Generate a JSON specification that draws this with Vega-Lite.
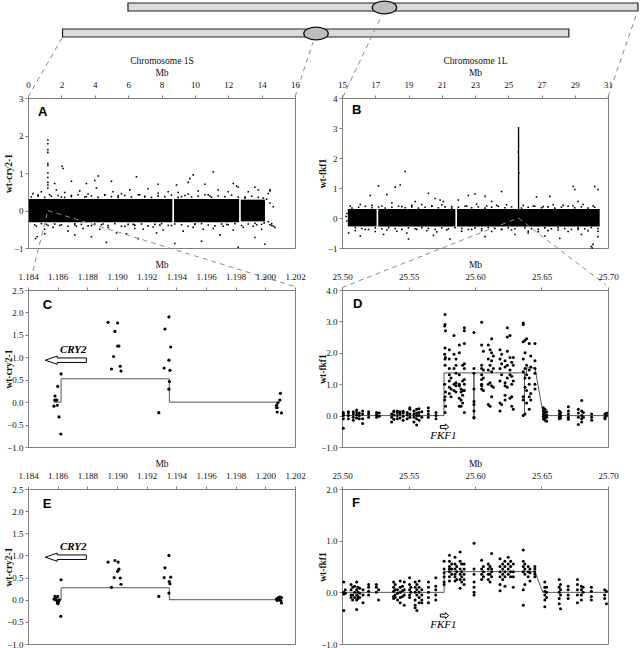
{
 "$schema": "https://vega.github.io/schema/vega-lite/v6.json",
 "padding": {"left": 2, "top": -2, "right": 0, "bottom": 0},
 "background": "white",
 "columns": 2,
 "spacing": {"row": 42, "column": 47},
 "bounds": "flush",
 "datasets": {
  "aband": [{"x":0.05,"x2":8.65,"y":-0.31,"y2":0.31},{"x":8.75,"x2":12.65,"y":-0.31,"y2":0.31},{"x":12.75,"x2":14.2,"y":-0.29,"y2":0.29}],
  "apts": [{"x":0.3,"y":0.45},{"x":0.5,"y":-0.42},{"x":0.8,"y":0.5},{"x":1.0,"y":-0.5},{"x":1.3,"y":0.42},{"x":1.5,"y":-0.45},{"x":1.7,"y":0.55},{"x":1.9,"y":-0.4},{"x":2.2,"y":0.48},{"x":2.4,"y":-0.55},{"x":2.6,"y":0.4},{"x":2.9,"y":-0.42},{"x":3.1,"y":0.52},{"x":3.3,"y":-0.48},{"x":3.6,"y":0.44},{"x":3.8,"y":-0.4},{"x":4.1,"y":0.6},{"x":4.3,"y":-0.5},{"x":4.6,"y":0.42},{"x":4.8,"y":-0.45},{"x":5.1,"y":0.5},{"x":5.3,"y":-0.6},{"x":5.6,"y":0.45},{"x":5.8,"y":-0.42},{"x":6.1,"y":0.55},{"x":6.4,"y":-0.48},{"x":6.7,"y":0.42},{"x":6.9,"y":-0.5},{"x":7.2,"y":0.58},{"x":7.5,"y":-0.44},{"x":7.8,"y":0.46},{"x":8.1,"y":-0.52},{"x":8.4,"y":0.5},{"x":8.6,"y":-0.4},{"x":9.0,"y":0.48},{"x":9.3,"y":-0.55},{"x":9.6,"y":0.44},{"x":9.9,"y":-0.45},{"x":10.2,"y":0.52},{"x":10.5,"y":-0.5},{"x":10.8,"y":0.42},{"x":11.1,"y":-0.48},{"x":11.4,"y":0.55},{"x":11.7,"y":-0.42},{"x":12.0,"y":0.5},{"x":12.3,"y":-0.52},{"x":12.6,"y":0.62},{"x":12.9,"y":-0.45},{"x":13.2,"y":0.5},{"x":13.5,"y":-0.42},{"x":13.8,"y":0.55},{"x":14.0,"y":-0.5},{"x":14.3,"y":0.3},{"x":14.4,"y":-0.3},{"x":14.5,"y":0.55},{"x":14.6,"y":-0.35},{"x":14.7,"y":0.1},{"x":14.8,"y":-0.45},{"x":14.5,"y":0.2},{"x":14.4,"y":0.45},{"x":0.6,"y":0.38},{"x":1.1,"y":-0.37},{"x":2.0,"y":0.36},{"x":2.8,"y":-0.38},{"x":3.5,"y":0.37},{"x":4.5,"y":-0.36},{"x":5.4,"y":0.39},{"x":6.3,"y":-0.37},{"x":7.0,"y":0.36},{"x":7.9,"y":-0.39},{"x":9.2,"y":0.37},{"x":10.0,"y":-0.36},{"x":10.9,"y":0.38},{"x":11.9,"y":-0.37},{"x":13.0,"y":0.36},{"x":13.7,"y":-0.38},
   {"x":0.2,"y":0.36},{"x":0.4,"y":-0.38},{"x":0.6,"y":0.41},{"x":0.8,"y":-0.35},{"x":1.0,"y":0.35},{"x":1.2,"y":-0.4},{"x":1.4,"y":0.38},{"x":1.6,"y":-0.36},{"x":1.8,"y":0.4},{"x":2.0,"y":-0.38},{"x":2.2,"y":0.35},{"x":2.4,"y":-0.42},{"x":2.6,"y":0.37},{"x":2.8,"y":-0.35},{"x":3.0,"y":0.42},{"x":3.2,"y":-0.37},{"x":3.4,"y":0.36},{"x":3.6,"y":-0.41},{"x":3.8,"y":0.39},{"x":4.0,"y":-0.36},{"x":4.2,"y":0.35},{"x":4.4,"y":-0.38},{"x":4.6,"y":0.41},{"x":4.8,"y":-0.4},{"x":5.0,"y":0.37},{"x":5.2,"y":-0.35},{"x":5.4,"y":0.35},{"x":5.6,"y":-0.42},{"x":5.8,"y":0.4},{"x":6.0,"y":-0.37},{"x":6.2,"y":0.36},{"x":6.4,"y":-0.39},{"x":6.6,"y":0.42},{"x":6.8,"y":-0.36},{"x":7.0,"y":0.38},{"x":7.2,"y":-0.41},{"x":7.4,"y":0.35},{"x":7.6,"y":-0.37},{"x":7.8,"y":0.39},{"x":8.0,"y":-0.35},{"x":8.2,"y":0.37},{"x":8.4,"y":-0.4},{"x":8.6,"y":0.41},{"x":8.8,"y":-0.36},{"x":9.0,"y":0.35},{"x":9.2,"y":-0.38},{"x":9.4,"y":0.4},{"x":9.6,"y":-0.42},{"x":9.8,"y":0.36},{"x":10.0,"y":-0.37},{"x":10.2,"y":0.38},{"x":10.4,"y":-0.35},{"x":10.6,"y":0.42},{"x":10.8,"y":-0.39},{"x":11.0,"y":0.35},{"x":11.2,"y":-0.41},{"x":11.4,"y":0.39},{"x":11.6,"y":-0.36},{"x":11.8,"y":0.37},{"x":12.0,"y":-0.38},{"x":12.2,"y":0.41},{"x":12.4,"y":-0.35},{"x":12.6,"y":0.36},{"x":12.8,"y":-0.4},{"x":13.0,"y":0.33},{"x":13.2,"y":-0.36},{"x":13.4,"y":0.38},{"x":13.6,"y":-0.34},{"x":13.8,"y":0.35},{"x":14.0,"y":-0.37},{"x":14.1,"y":0.33},{"x":14.15,"y":-0.33},
   {"x":1.19,"y":1.88},{"x":1.19,"y":1.78},{"x":1.19,"y":1.62},{"x":1.19,"y":1.55},{"x":1.19,"y":1.25},{"x":1.19,"y":1.2},{"x":1.19,"y":1.0},{"x":1.19,"y":0.88},{"x":1.19,"y":0.75},{"x":1.19,"y":0.68},{"x":1.19,"y":0.6},{"x":2.05,"y":1.18},{"x":2.1,"y":1.12},{"x":4.21,"y":0.92},{"x":4.0,"y":0.8},{"x":6.5,"y":0.9},{"x":5.0,"y":0.78},{"x":9.9,"y":0.95},{"x":9.7,"y":0.85},{"x":9.6,"y":0.75},{"x":11.1,"y":1.03},{"x":12.3,"y":0.72},{"x":12.5,"y":0.65},{"x":13.6,"y":0.62},{"x":14.5,"y":0.52},{"x":3.5,"y":0.72},{"x":7.8,"y":0.7},{"x":8.9,"y":0.68},{"x":10.6,"y":0.7},{"x":2.6,"y":0.78},{"x":1.6,"y":0.72},{"x":0.45,"y":-0.75},{"x":0.55,"y":-0.7},{"x":1.0,"y":-0.62},{"x":2.8,"y":-0.65},{"x":4.7,"y":-0.85},{"x":6.6,"y":-0.75},{"x":7.7,"y":-0.6},{"x":8.8,"y":-0.88},{"x":10.4,"y":-0.82},{"x":12.6,"y":-0.98},{"x":13.6,"y":-0.72},{"x":14.2,"y":-0.9},{"x":14.5,"y":-0.38},{"x":14.6,"y":-0.4},{"x":14.7,"y":-0.42},{"x":11.5,"y":-0.65},{"x":5.9,"y":-0.62},{"x":3.8,"y":-0.7}],
  "diag": [{"x":2.07,"x2":32.41,"y":4.627,"y2":4.84},{"x":5.99,"x2":36.55,"y":5.32,"y2":5.533}],
  "ell": [{"x":17.26,"y":4.72},{"x":21.36,"y":5.413}],
  "acon": [{"g":1,"x":2.04,"y":4.6},{"g":1,"x":0,"y":3.027},{"g":2,"x":17.08,"y":4.49},{"g":2,"x":16.0,"y":3.03},{"g":3,"x":21.21,"y":5.213},{"g":3,"x":18.87,"y":3.027},{"g":4,"x":36.49,"y":5.267},{"g":4,"x":34.75,"y":3.027},{"g":5,"x":1.19,"y":0},{"g":5,"x":0.3,"y":-1.61},{"g":6,"x":1.19,"y":0},{"g":6,"x":16.05,"y":-2.04}],
  "bband": [{"x":15.35,"x2":17.08,"y":-0.28,"y2":0.3},{"x":17.18,"x2":21.82,"y":-0.28,"y2":0.3},{"x":21.92,"x2":30.5,"y":-0.28,"y2":0.3},{"x":25.58,"x2":25.66,"y":0.3,"y2":2.97}],
  "bpts": [{"x":15.5,"y":0.4},{"x":15.8,"y":-0.42},{"x":16.1,"y":0.45},{"x":16.4,"y":-0.38},{"x":16.8,"y":0.42},{"x":17.0,"y":-0.45},{"x":17.4,"y":0.4},{"x":17.7,"y":-0.4},{"x":18.0,"y":0.5},{"x":18.3,"y":-0.44},{"x":18.6,"y":0.38},{"x":18.9,"y":-0.5},{"x":19.2,"y":0.42},{"x":19.5,"y":-0.38},{"x":19.8,"y":0.45},{"x":20.1,"y":-0.42},{"x":20.4,"y":0.4},{"x":20.7,"y":-0.46},{"x":21.0,"y":0.44},{"x":21.3,"y":-0.4},{"x":21.6,"y":0.38},{"x":22.2,"y":-0.44},{"x":22.5,"y":0.4},{"x":22.8,"y":-0.38},{"x":23.1,"y":0.46},{"x":23.4,"y":-0.42},{"x":23.7,"y":0.4},{"x":24.0,"y":-0.45},{"x":24.3,"y":0.42},{"x":24.6,"y":-0.38},{"x":24.9,"y":0.44},{"x":25.2,"y":-0.4},{"x":25.9,"y":0.42},{"x":26.2,"y":-0.44},{"x":26.5,"y":0.4},{"x":26.8,"y":-0.46},{"x":27.1,"y":0.38},{"x":27.4,"y":-0.42},{"x":27.7,"y":0.44},{"x":28.0,"y":-0.4},{"x":28.3,"y":0.42},{"x":28.6,"y":-0.45},{"x":28.9,"y":0.4},{"x":29.2,"y":-0.38},{"x":29.5,"y":0.45},{"x":29.8,"y":-0.42},{"x":30.1,"y":0.4},{"x":30.4,"y":-0.44},{"x":15.3,"y":-0.1},{"x":15.25,"y":0.05},{"x":15.3,"y":0.15},
   {"x":15.6,"y":0.33},{"x":15.8,"y":-0.32},{"x":16.0,"y":0.36},{"x":16.2,"y":-0.35},{"x":16.4,"y":0.39},{"x":16.6,"y":-0.38},{"x":16.8,"y":0.34},{"x":17.0,"y":-0.33},{"x":17.2,"y":0.37},{"x":17.4,"y":-0.36},{"x":17.6,"y":0.33},{"x":17.8,"y":-0.32},{"x":18.0,"y":0.36},{"x":18.2,"y":-0.35},{"x":18.4,"y":0.39},{"x":18.6,"y":-0.38},{"x":18.8,"y":0.34},{"x":19.0,"y":-0.33},{"x":19.2,"y":0.37},{"x":19.4,"y":-0.36},{"x":19.6,"y":0.33},{"x":19.8,"y":-0.32},{"x":20.0,"y":0.36},{"x":20.2,"y":-0.35},{"x":20.4,"y":0.39},{"x":20.6,"y":-0.38},{"x":20.8,"y":0.34},{"x":21.0,"y":-0.33},{"x":21.2,"y":0.37},{"x":21.4,"y":-0.36},{"x":21.6,"y":0.33},{"x":21.8,"y":-0.32},{"x":22.0,"y":0.36},{"x":22.2,"y":-0.35},{"x":22.4,"y":0.39},{"x":22.6,"y":-0.38},{"x":22.8,"y":0.34},{"x":23.0,"y":-0.33},{"x":23.2,"y":0.37},{"x":23.4,"y":-0.36},{"x":23.6,"y":0.33},{"x":23.8,"y":-0.32},{"x":24.0,"y":0.36},{"x":24.2,"y":-0.35},{"x":24.4,"y":0.39},{"x":24.6,"y":-0.38},{"x":24.8,"y":0.34},{"x":25.0,"y":-0.33},{"x":25.2,"y":0.37},{"x":25.4,"y":-0.36},{"x":25.8,"y":0.33},{"x":26.0,"y":-0.32},{"x":26.2,"y":0.36},{"x":26.4,"y":-0.35},{"x":26.6,"y":0.39},{"x":26.8,"y":-0.38},{"x":27.0,"y":0.34},{"x":27.2,"y":-0.33},{"x":27.4,"y":0.37},{"x":27.6,"y":-0.36},{"x":27.8,"y":0.33},{"x":28.0,"y":-0.32},{"x":28.2,"y":0.36},{"x":28.4,"y":-0.35},{"x":28.6,"y":0.39},{"x":28.8,"y":-0.38},{"x":29.0,"y":0.34},{"x":29.2,"y":-0.33},{"x":29.4,"y":0.37},{"x":29.6,"y":-0.36},{"x":29.8,"y":0.33},{"x":30.0,"y":-0.32},{"x":30.2,"y":0.36},{"x":30.4,"y":-0.35},
   {"x":18.8,"y":1.55},{"x":17.2,"y":1.07},{"x":18.2,"y":1.03},{"x":18.5,"y":1.1},{"x":16.7,"y":0.75},{"x":17.7,"y":0.78},{"x":20.2,"y":0.82},{"x":20.6,"y":0.65},{"x":20.9,"y":0.6},{"x":21.1,"y":0.55},{"x":19.4,"y":0.55},{"x":22.6,"y":0.75},{"x":23.0,"y":0.8},{"x":23.6,"y":0.72},{"x":24.6,"y":0.88},{"x":26.7,"y":0.7},{"x":27.5,"y":0.72},{"x":28.9,"y":1.05},{"x":29.0,"y":0.95},{"x":30.2,"y":1.05},{"x":30.4,"y":0.95},{"x":29.2,"y":0.55},{"x":22.0,"y":0.6},{"x":24.0,"y":0.55},{"x":15.4,"y":-0.5},{"x":16.1,"y":-0.6},{"x":17.5,"y":-0.55},{"x":19.0,"y":-0.7},{"x":20.5,"y":-0.58},{"x":21.5,"y":-0.7},{"x":23.6,"y":-0.62},{"x":25.4,"y":-0.55},{"x":26.2,"y":-0.5},{"x":27.2,"y":-0.6},{"x":28.1,"y":-0.68},{"x":29.4,"y":-0.55},{"x":30.0,"y":-0.95},{"x":30.05,"y":-1.0},{"x":30.1,"y":-0.88},{"x":30.4,"y":-0.62},{"x":25.62,"y":3.0},{"x":25.6,"y":2.2},{"x":25.64,"y":1.5}],
  "bcon": [{"g":1,"x":25.6,"y":0},{"g":1,"x":15,"y":-2.32},{"g":2,"x":25.6,"y":0},{"g":2,"x":30.87,"y":-2.23}],
  "cpts": [{"x":1.18575,"y":-0.09},{"x":1.18582,"y":0.136},{"x":1.18589,"y":0.045},{"x":1.1858,"y":0.045},{"x":1.18594,"y":0.045},{"x":1.18598,"y":-0.07},{"x":1.186,"y":0.35},{"x":1.18609,"y":-0.33},{"x":1.18621,"y":-0.71},{"x":1.18623,"y":0.63},{"x":1.1894,"y":1.78},{"x":1.19004,"y":1.765},{"x":1.18986,"y":1.576},{"x":1.18977,"y":1.018},{"x":1.18963,"y":0.739},{"x":1.19004,"y":1.25},{"x":1.19013,"y":1.25},{"x":1.19022,"y":0.8},{"x":1.19027,"y":0.694},{"x":1.19282,"y":-0.234},{"x":1.19323,"y":1.63},{"x":1.19318,"y":0.76},{"x":1.1935,"y":1.9},{"x":1.1935,"y":0.935},{"x":1.19362,"y":1.23},{"x":1.19357,"y":0.71},{"x":1.19353,"y":0.46},{"x":1.1935,"y":0.29},{"x":1.20075,"y":-0.07},{"x":1.2008,"y":-0.12},{"x":1.20084,"y":-0.015},{"x":1.2008,"y":-0.22},{"x":1.20098,"y":0.045},{"x":1.20102,"y":0.196},{"x":1.20109,"y":-0.24},{"x":1.20075,"y":-0.12}],
  "cstep": [{"o":1,"x":1.18571,"y":0},{"o":2,"x":1.18623,"y":0},{"o":3,"x":1.18623,"y":0.52},{"o":4,"x":1.19353,"y":0.52},{"o":5,"x":1.19353,"y":0},{"o":6,"x":1.20098,"y":0}],
  "epts": [{"x":1.18575,"y":0.015},{"x":1.18582,"y":0.075},{"x":1.18589,"y":0.04},{"x":1.18594,"y":-0.02},{"x":1.18585,"y":0},{"x":1.18598,"y":-0.075},{"x":1.18607,"y":-0.04},{"x":1.18612,"y":0},{"x":1.186,"y":0.075},{"x":1.18623,"y":0.45},{"x":1.18621,"y":-0.375},{"x":1.18603,"y":-0.09},{"x":1.1894,"y":0.85},{"x":1.18986,"y":0.886},{"x":1.19008,"y":0.85},{"x":1.18981,"y":0.5},{"x":1.18963,"y":0.28},{"x":1.19004,"y":0.64},{"x":1.19013,"y":0.69},{"x":1.19022,"y":0.49},{"x":1.19027,"y":0.35},{"x":1.19282,"y":0.075},{"x":1.19323,"y":0.72},{"x":1.19318,"y":0.5},{"x":1.1935,"y":1.0},{"x":1.19362,"y":0.51},{"x":1.19352,"y":0.41},{"x":1.19357,"y":0.36},{"x":1.1935,"y":0.15},{"x":1.20075,"y":0.015},{"x":1.20086,"y":0.04},{"x":1.20098,"y":0.06},{"x":1.20093,"y":0},{"x":1.20104,"y":-0.02},{"x":1.20109,"y":-0.075},{"x":1.2008,"y":-0.015},{"x":1.20109,"y":0.05}],
  "estep": [{"o":1,"x":1.18571,"y":0},{"o":2,"x":1.18623,"y":0},{"o":3,"x":1.18623,"y":0.27},{"o":4,"x":1.19353,"y":0.27},{"o":5,"x":1.19353,"y":0},{"o":6,"x":1.20098,"y":0}],
  "dpts": [{"x":25.501,"y":-0.4},{"x":25.501,"y":-0.1},{"x":25.501,"y":0},{"x":25.501,"y":0.05},{"x":25.501,"y":0.1},{"x":25.5048,"y":-0.1},{"x":25.5048,"y":0},{"x":25.5048,"y":0.08},{"x":25.5048,"y":0.12},{"x":25.5085,"y":-0.15},{"x":25.5085,"y":-0.05},{"x":25.5085,"y":0.05},{"x":25.5085,"y":0.12},{"x":25.511,"y":-0.08},{"x":25.511,"y":0.02},{"x":25.511,"y":0.1},{"x":25.511,"y":0.18},{"x":25.513,"y":-0.1},{"x":25.513,"y":0},{"x":25.513,"y":0.08},{"x":25.5155,"y":-0.25},{"x":25.5155,"y":-0.1},{"x":25.5155,"y":0.05},{"x":25.5155,"y":0.15},{"x":25.52,"y":-0.05},{"x":25.52,"y":0.05},{"x":25.52,"y":0.12},{"x":25.526,"y":-0.05},{"x":25.526,"y":0.03},{"x":25.526,"y":0.1},{"x":25.528,"y":-0.02},{"x":25.528,"y":0.08},{"x":25.5373,"y":-0.2},{"x":25.5373,"y":-0.05},{"x":25.5373,"y":0.05},{"x":25.539,"y":-0.12},{"x":25.539,"y":0.02},{"x":25.539,"y":0.12},{"x":25.539,"y":0.15},{"x":25.5416,"y":-0.1},{"x":25.5416,"y":0},{"x":25.5416,"y":0.1},{"x":25.5416,"y":0.15},{"x":25.5436,"y":-0.08},{"x":25.5436,"y":0.05},{"x":25.5436,"y":0.12},{"x":25.546,"y":-0.15},{"x":25.546,"y":-0.02},{"x":25.546,"y":0.08},{"x":25.546,"y":0.14},{"x":25.549,"y":-0.1},{"x":25.549,"y":0.02},{"x":25.549,"y":0.1},{"x":25.551,"y":-0.05},{"x":25.551,"y":0.05},{"x":25.551,"y":0.2},{"x":25.551,"y":0.25},{"x":25.5541,"y":-0.2},{"x":25.5541,"y":-0.05},{"x":25.5541,"y":0.05},{"x":25.5541,"y":0.15},{"x":25.5561,"y":-0.3},{"x":25.5561,"y":-0.1},{"x":25.5561,"y":0},{"x":25.5561,"y":0.08},{"x":25.5561,"y":0.2},{"x":25.5579,"y":-0.15},{"x":25.5579,"y":0},{"x":25.5579,"y":0.1},{"x":25.5579,"y":0.22},{"x":25.56,"y":-0.05},{"x":25.56,"y":0.12},{"x":25.5649,"y":-0.05},{"x":25.5649,"y":0.05},{"x":25.5649,"y":0.15},{"x":25.5649,"y":0.25},{"x":25.5707,"y":-0.1},{"x":25.5707,"y":0},{"x":25.5707,"y":0.1},
   {"x":25.5775,"y":3.22},{"x":25.5775,"y":2.9},{"x":25.5772,"y":2.85},{"x":25.5778,"y":2.7},{"x":25.5775,"y":2.15},{"x":25.5772,"y":1.95},{"x":25.5778,"y":1.85},{"x":25.5775,"y":1.8},{"x":25.5775,"y":1.6},{"x":25.5772,"y":1.0},{"x":25.5778,"y":0.75},{"x":25.5775,"y":0.6},{"x":25.5772,"y":0.5},{"x":25.5778,"y":0.3},{"x":25.5775,"y":0.1},
   {"x":25.5807,"y":2.1},{"x":25.5807,"y":1.8},{"x":25.5807,"y":1.5},{"x":25.5807,"y":1.3},{"x":25.5807,"y":1.1},{"x":25.5807,"y":0.9},{"x":25.5807,"y":0.7},{"x":25.582,"y":1.2},{"x":25.582,"y":0.85},{"x":25.582,"y":0.6},
   {"x":25.5842,"y":2.55},{"x":25.5842,"y":1.95},{"x":25.5842,"y":1.5},{"x":25.5842,"y":1.0},{"x":25.5842,"y":0.8},{"x":25.5857,"y":1.8},{"x":25.5857,"y":1.6},{"x":25.5857,"y":1.35},{"x":25.5857,"y":1.05},{"x":25.5857,"y":0.95},{"x":25.5857,"y":0.75},
   {"x":25.5882,"y":2.25},{"x":25.5882,"y":2.0},{"x":25.5882,"y":1.3},{"x":25.5882,"y":1.0},{"x":25.5882,"y":0.95},{"x":25.5882,"y":0.55},{"x":25.5882,"y":0.3},{"x":25.5895,"y":0.85},{"x":25.5895,"y":0.75},{"x":25.5895,"y":0.5},{"x":25.5895,"y":0.3},
   {"x":25.5907,"y":1.6},{"x":25.5907,"y":1.1},{"x":25.5907,"y":0.8},{"x":25.5907,"y":0.65},{"x":25.5907,"y":0.4},{"x":25.592,"y":2.8},{"x":25.592,"y":2.7},{"x":25.592,"y":2.3},{"x":25.592,"y":1.65},{"x":25.592,"y":1.5},{"x":25.592,"y":1.15},{"x":25.592,"y":1.0},{"x":25.592,"y":0.8},{"x":25.592,"y":0.1},
   {"x":25.5992,"y":2.65},{"x":25.5992,"y":1.5},{"x":25.5992,"y":1.35},{"x":25.5992,"y":0.85},{"x":25.5992,"y":0.45},{"x":25.5992,"y":0.35},{"x":25.5992,"y":0.15},{"x":25.5992,"y":-0.05},{"x":25.5992,"y":-0.08},
   {"x":25.605,"y":2.97},{"x":25.605,"y":2.25},{"x":25.605,"y":1.6},{"x":25.605,"y":1.5},{"x":25.605,"y":1.3},{"x":25.605,"y":1.15},{"x":25.605,"y":1.0},{"x":25.605,"y":0.95},{"x":25.605,"y":0.85},{"x":25.6063,"y":2.05},{"x":25.6063,"y":1.45},{"x":25.6063,"y":1.2},{"x":25.6063,"y":0.8},
   {"x":25.61,"y":2.25},{"x":25.61,"y":1.8},{"x":25.61,"y":1.45},{"x":25.61,"y":1.0},{"x":25.61,"y":0.35},{"x":25.6113,"y":2.1},{"x":25.6113,"y":1.6},{"x":25.6113,"y":1.05},{"x":25.6113,"y":0.3},
   {"x":25.6125,"y":2.45},{"x":25.6125,"y":2.0},{"x":25.6125,"y":1.75},{"x":25.6125,"y":1.4},{"x":25.6125,"y":0.95},{"x":25.6125,"y":0.6},{"x":25.6138,"y":1.9},{"x":25.6138,"y":1.5},{"x":25.6138,"y":0.9},
   {"x":25.6188,"y":2.1},{"x":25.6188,"y":1.8},{"x":25.6188,"y":1.5},{"x":25.6188,"y":1.1},{"x":25.6188,"y":0.4},{"x":25.6188,"y":0.15},{"x":25.62,"y":1.95},{"x":25.62,"y":1.65},{"x":25.62,"y":1.3},{"x":25.62,"y":0.35},
   {"x":25.6226,"y":1.75},{"x":25.6226,"y":1.55},{"x":25.6226,"y":1.05},{"x":25.6226,"y":0.95},{"x":25.6226,"y":0.65},{"x":25.6226,"y":0.5},{"x":25.6243,"y":2.8},{"x":25.6243,"y":2.5},{"x":25.6243,"y":2.05},{"x":25.6243,"y":1.6},{"x":25.6243,"y":1.2},{"x":25.6243,"y":0.9},
   {"x":25.6263,"y":2.55},{"x":25.6263,"y":1.85},{"x":25.6263,"y":1.45},{"x":25.6263,"y":1.3},{"x":25.6263,"y":0.55},{"x":25.6276,"y":1.7},{"x":25.6276,"y":1.25},{"x":25.6276,"y":1.0},{"x":25.6276,"y":0.6},{"x":25.6276,"y":0.3},{"x":25.6288,"y":1.85},{"x":25.6288,"y":1.6},{"x":25.6288,"y":1.1},{"x":25.6288,"y":0.2},
   {"x":25.6363,"y":2.95},{"x":25.6363,"y":2.9},{"x":25.6363,"y":2.35},{"x":25.6363,"y":1.8},{"x":25.6363,"y":1.4},{"x":25.6363,"y":0.6},{"x":25.6363,"y":0.5},{"x":25.6363,"y":0.0},{"x":25.6376,"y":2.4},{"x":25.6376,"y":2.0},{"x":25.6376,"y":1.5},{"x":25.6376,"y":1.2},{"x":25.6376,"y":0.9},{"x":25.6376,"y":0.05},
   {"x":25.6388,"y":2.45},{"x":25.6388,"y":1.6},{"x":25.6388,"y":1.3},{"x":25.6388,"y":0.8},{"x":25.6388,"y":0.4},{"x":25.6408,"y":2.3},{"x":25.6408,"y":1.45},{"x":25.6408,"y":1.2},{"x":25.6408,"y":1.0},{"x":25.6408,"y":0.6},{"x":25.6408,"y":0.2},{"x":25.6419,"y":1.9},{"x":25.6419,"y":1.55},{"x":25.6419,"y":0.7},{"x":25.6419,"y":0.5},
   {"x":25.6451,"y":2.3},{"x":25.6451,"y":1.75},{"x":25.6451,"y":1.5},{"x":25.6451,"y":1.35},{"x":25.6451,"y":1.0},{"x":25.6451,"y":0.85},
   {"x":25.6514,"y":0.25},{"x":25.6514,"y":0.15},{"x":25.6514,"y":0.05},{"x":25.6514,"y":-0.02},{"x":25.6514,"y":-0.1},{"x":25.6526,"y":0.2},{"x":25.6526,"y":0.1},{"x":25.6526,"y":0},{"x":25.6526,"y":-0.08},{"x":25.6526,"y":-0.15},{"x":25.6539,"y":0.12},{"x":25.6539,"y":0.02},{"x":25.6539,"y":-0.05},{"x":25.6539,"y":-0.18},
   {"x":25.6634,"y":0.15},{"x":25.6634,"y":0.05},{"x":25.6634,"y":-0.05},{"x":25.6634,"y":-0.1},{"x":25.6644,"y":0.1},{"x":25.6644,"y":0},{"x":25.6644,"y":-0.08},{"x":25.6702,"y":0.28},{"x":25.6702,"y":0.15},{"x":25.6702,"y":0.05},{"x":25.6702,"y":-0.05},{"x":25.6702,"y":-0.12},
   {"x":25.6777,"y":0.2},{"x":25.6777,"y":0.08},{"x":25.6777,"y":-0.05},{"x":25.6777,"y":-0.28},{"x":25.6802,"y":0.48},{"x":25.6802,"y":0.15},{"x":25.6802,"y":0},{"x":25.6802,"y":-0.1},{"x":25.6802,"y":-0.2},{"x":25.6815,"y":0.1},{"x":25.6815,"y":-0.05},
   {"x":25.6877,"y":0.05},{"x":25.6877,"y":-0.05},{"x":25.6877,"y":-0.15},{"x":25.6977,"y":0.05},{"x":25.6977,"y":-0.05},{"x":25.6977,"y":-0.1},{"x":25.699,"y":0.08},{"x":25.699,"y":0}],
  "dstep": [{"o":1,"x":25.5,"y":0},{"o":2,"x":25.5767,"y":0},{"o":3,"x":25.5767,"y":1.36},{"o":4,"x":25.5992,"y":1.36},{"o":5,"x":25.5992,"y":0},{"o":6,"x":25.5992,"y":1.36},{"o":7,"x":25.6372,"y":1.36},{"o":8,"x":25.6372,"y":0.02},{"o":9,"x":25.6372,"y":1.36},{"o":10,"x":25.6388,"y":1.36},{"o":11,"x":25.6388,"y":1.52},{"o":12,"x":25.6451,"y":1.52},{"o":13,"x":25.6514,"y":0},{"o":14,"x":25.7,"y":0}],
  "fpts": [{"x":25.5013,"y":0.2},{"x":25.5013,"y":0},{"x":25.5013,"y":-0.03},{"x":25.5013,"y":-0.35},{"x":25.5025,"y":0.05},{"x":25.5025,"y":-0.02},{"x":25.5068,"y":0.15},{"x":25.5068,"y":0.05},{"x":25.5068,"y":-0.05},{"x":25.5068,"y":-0.1},{"x":25.508,"y":0.1},{"x":25.508,"y":-0.05},{"x":25.508,"y":-0.15},{"x":25.5095,"y":0.12},{"x":25.5095,"y":0},{"x":25.5095,"y":-0.1},
   {"x":25.511,"y":0.2},{"x":25.511,"y":0.05},{"x":25.511,"y":-0.05},{"x":25.511,"y":-0.15},{"x":25.511,"y":-0.33},{"x":25.512,"y":0.1},{"x":25.512,"y":0},{"x":25.512,"y":-0.08},{"x":25.512,"y":-0.12},{"x":25.5133,"y":0.08},{"x":25.5133,"y":-0.02},{"x":25.5133,"y":-0.1},{"x":25.5158,"y":0.05},{"x":25.5158,"y":-0.05},{"x":25.5158,"y":-0.2},
   {"x":25.52,"y":0.15},{"x":25.52,"y":0.1},{"x":25.52,"y":0.02},{"x":25.52,"y":-0.05},{"x":25.5258,"y":0.15},{"x":25.5258,"y":0.1},{"x":25.5258,"y":0},{"x":25.5275,"y":0.05},{"x":25.5275,"y":-0.15},
   {"x":25.5388,"y":0.2},{"x":25.5388,"y":0.1},{"x":25.5388,"y":0.02},{"x":25.5388,"y":-0.08},{"x":25.5388,"y":-0.12},{"x":25.54,"y":0.15},{"x":25.54,"y":0.05},{"x":25.54,"y":-0.05},{"x":25.54,"y":-0.1},{"x":25.5418,"y":0.05},{"x":25.5418,"y":-0.02},{"x":25.5418,"y":-0.15},
   {"x":25.5438,"y":0.22},{"x":25.5438,"y":0.1},{"x":25.5438,"y":0},{"x":25.5438,"y":-0.1},{"x":25.5438,"y":-0.2},{"x":25.5455,"y":0.12},{"x":25.5455,"y":0.03},{"x":25.5455,"y":-0.08},{"x":25.5468,"y":0.2},{"x":25.5468,"y":0.05},{"x":25.5468,"y":-0.05},{"x":25.5468,"y":-0.25},
   {"x":25.5508,"y":0.28},{"x":25.5508,"y":0.15},{"x":25.5508,"y":0.05},{"x":25.5508,"y":-0.05},{"x":25.5508,"y":-0.1},{"x":25.5518,"y":0.1},{"x":25.5518,"y":0},
   {"x":25.555,"y":0.2},{"x":25.555,"y":0.1},{"x":25.555,"y":0},{"x":25.555,"y":-0.15},{"x":25.555,"y":-0.25},{"x":25.555,"y":-0.3},{"x":25.5563,"y":0.15},{"x":25.5563,"y":0.05},{"x":25.5563,"y":-0.05},{"x":25.5563,"y":-0.35},
   {"x":25.558,"y":0.22},{"x":25.558,"y":0.1},{"x":25.558,"y":0},{"x":25.558,"y":-0.1},{"x":25.558,"y":-0.2},{"x":25.56,"y":0.05},{"x":25.56,"y":-0.05},{"x":25.56,"y":-0.15},{"x":25.56,"y":-0.2},
   {"x":25.565,"y":0.2},{"x":25.565,"y":0.1},{"x":25.565,"y":0},{"x":25.565,"y":-0.1},{"x":25.565,"y":-0.2},{"x":25.5705,"y":0.28},{"x":25.5705,"y":0.12},{"x":25.5705,"y":0.05},{"x":25.5705,"y":-0.05},{"x":25.5705,"y":-0.15},
   {"x":25.5768,"y":0.6},{"x":25.5768,"y":0.45},{"x":25.5768,"y":0.38},{"x":25.5768,"y":0.3},{"x":25.5768,"y":0.2},{"x":25.5768,"y":0.15},
   {"x":25.5808,"y":0.72},{"x":25.5808,"y":0.6},{"x":25.5808,"y":0.5},{"x":25.5808,"y":0.45},{"x":25.5808,"y":0.4},{"x":25.5808,"y":0.3},{"x":25.5808,"y":0.22},{"x":25.5825,"y":0.55},{"x":25.5825,"y":0.45},{"x":25.5825,"y":0.35},
   {"x":25.585,"y":0.68},{"x":25.585,"y":0.55},{"x":25.585,"y":0.45},{"x":25.585,"y":0.35},{"x":25.585,"y":0.3},{"x":25.585,"y":0.22},{"x":25.5863,"y":0.5},{"x":25.5863,"y":0.4},{"x":25.5863,"y":0.25},
   {"x":25.5888,"y":0.78},{"x":25.5888,"y":0.6},{"x":25.5888,"y":0.45},{"x":25.5888,"y":0.35},{"x":25.5888,"y":0.25},{"x":25.5888,"y":0.08},{"x":25.59,"y":0.55},{"x":25.59,"y":0.4},{"x":25.59,"y":0.3},{"x":25.59,"y":0.2},
   {"x":25.5918,"y":0.55},{"x":25.5918,"y":0.45},{"x":25.5918,"y":0.35},{"x":25.5918,"y":0.25},{"x":25.5918,"y":0.15},
   {"x":25.5993,"y":0.95},{"x":25.5993,"y":0.45},{"x":25.5993,"y":0.35},{"x":25.5993,"y":0.2},{"x":25.5993,"y":0.1},{"x":25.5993,"y":0},{"x":25.5993,"y":-0.05},
   {"x":25.605,"y":0.62},{"x":25.605,"y":0.45},{"x":25.605,"y":0.35},{"x":25.605,"y":0.25},{"x":25.6063,"y":0.5},{"x":25.6063,"y":0.4},{"x":25.6063,"y":0.3},
   {"x":25.61,"y":0.55},{"x":25.61,"y":0.45},{"x":25.61,"y":0.35},{"x":25.61,"y":0.25},{"x":25.6113,"y":0.5},{"x":25.6113,"y":0.35},{"x":25.6113,"y":0.2},{"x":25.6125,"y":0.75},{"x":25.6125,"y":0.45},{"x":25.6125,"y":0.4},{"x":25.6125,"y":0.3},
   {"x":25.6188,"y":0.65},{"x":25.6188,"y":0.5},{"x":25.6188,"y":0.4},{"x":25.6188,"y":0.3},{"x":25.6188,"y":0.15},{"x":25.6188,"y":0.03},{"x":25.6208,"y":0.55},{"x":25.6208,"y":0.45},{"x":25.6208,"y":0.35},{"x":25.6208,"y":0.25},
   {"x":25.6225,"y":0.6},{"x":25.6225,"y":0.5},{"x":25.6225,"y":0.4},{"x":25.6225,"y":0.3},{"x":25.6225,"y":0.12},{"x":25.625,"y":0.68},{"x":25.625,"y":0.55},{"x":25.625,"y":0.45},{"x":25.625,"y":0.35},
   {"x":25.6268,"y":0.6},{"x":25.6268,"y":0.5},{"x":25.6268,"y":0.4},{"x":25.6268,"y":0.3},{"x":25.6288,"y":0.55},{"x":25.6288,"y":0.4},{"x":25.6288,"y":0.3},{"x":25.6288,"y":0.1},
   {"x":25.6363,"y":0.82},{"x":25.6363,"y":0.6},{"x":25.6363,"y":0.5},{"x":25.6363,"y":0.4},{"x":25.6363,"y":0.05},{"x":25.6363,"y":-0.25},{"x":25.6375,"y":0.55},{"x":25.6375,"y":0.45},{"x":25.6375,"y":0.35},{"x":25.6375,"y":0.15},
   {"x":25.64,"y":0.5},{"x":25.64,"y":0.4},{"x":25.64,"y":0.3},{"x":25.6413,"y":0.45},{"x":25.6413,"y":0.38},{"x":25.6413,"y":0.22},{"x":25.645,"y":0.5},{"x":25.645,"y":0.45},{"x":25.645,"y":0.4},{"x":25.645,"y":0.35},{"x":25.645,"y":0.3},
   {"x":25.6525,"y":0.2},{"x":25.6525,"y":0.1},{"x":25.6525,"y":0.02},{"x":25.6525,"y":-0.05},{"x":25.6525,"y":-0.15},{"x":25.6525,"y":-0.28},{"x":25.6538,"y":0.1},{"x":25.6538,"y":0},{"x":25.6538,"y":-0.1},
   {"x":25.6633,"y":0.25},{"x":25.6633,"y":0.1},{"x":25.6633,"y":0},{"x":25.6633,"y":-0.12},{"x":25.6633,"y":-0.22},{"x":25.6643,"y":0.15},{"x":25.6643,"y":0.05},{"x":25.6643,"y":-0.05},{"x":25.6643,"y":-0.32},
   {"x":25.67,"y":0.12},{"x":25.67,"y":0.05},{"x":25.67,"y":-0.05},{"x":25.67,"y":-0.12},{"x":25.677,"y":0.25},{"x":25.677,"y":0.15},{"x":25.677,"y":0.05},{"x":25.677,"y":-0.05},{"x":25.677,"y":-0.2},
   {"x":25.68,"y":0.12},{"x":25.68,"y":0.05},{"x":25.68,"y":-0.05},{"x":25.68,"y":-0.15},{"x":25.6813,"y":0.1},{"x":25.6813,"y":0},
   {"x":25.6875,"y":0.1},{"x":25.6875,"y":0.02},{"x":25.6875,"y":-0.08},{"x":25.6875,"y":-0.15},{"x":25.6975,"y":0.05},{"x":25.6975,"y":-0.05},{"x":25.6975,"y":-0.12},{"x":25.6988,"y":0.02},{"x":25.6988,"y":-0.22}],
  "fstep": [{"o":1,"x":25.5,"y":0},{"o":2,"x":25.5768,"y":0},{"o":3,"x":25.5768,"y":0.4},{"o":4,"x":25.645,"y":0.4},{"o":5,"x":25.651,"y":0},{"o":6,"x":25.7,"y":0}]
 },
 "concat": [
  {
   "width": 267, "height": 150,
   "encoding": {
    "x": {"field": "x", "type": "quantitative", "scale": {"domain": [0, 16], "nice": false, "zero": false}, "axis": {"orient": "top", "values": [0,2,4,6,8,10,12,14,16], "format": "d", "title": ["Chromosome 1S", "Mb"]}},
    "y": {"field": "y", "type": "quantitative", "scale": {"domain": [-1, 3], "nice": false, "zero": false}, "axis": {"values": [-1,0,1,2,3], "format": "d", "title": "wt-cry2-1"}}
   },
   "layer": [
    {"data": {"name": "aband"}, "mark": {"type": "rect", "color": "#000", "clip": false}, "encoding": {"x2": {"field": "x2"}, "y2": {"field": "y2"}}},
    {"data": {"name": "apts"}, "mark": {"type": "point", "shape": "square", "filled": true, "color": "#000", "size": 2.5, "opacity": 1, "clip": false}},
    {"data": {"name": "diag"}, "mark": {"type": "rect", "fill": "#dcdcdc", "stroke": "#222", "strokeWidth": 1.2, "clip": false}, "encoding": {"x2": {"field": "x2"}, "y2": {"field": "y2"}}},
    {"data": {"name": "ell"}, "mark": {"type": "point", "shape": "M -1 0 A 1 0.52 0 1 1 1 0 A 1 0.52 0 1 1 -1 0 Z", "size": 600, "filled": true, "color": "#bdbdbd", "stroke": "#111", "strokeWidth": 1.3, "opacity": 1, "clip": false}},
    {"data": {"name": "acon"}, "mark": {"type": "line", "color": "#8c8c8c", "strokeWidth": 1, "strokeDash": [5, 4], "clip": false}, "encoding": {"detail": {"field": "g"}}},
    {"data": {"values": [{"x": 0.6, "y": 2.63, "t": "A"}]}, "mark": {"type": "text", "font": "Liberation Sans", "fontWeight": "bold", "fontSize": 13, "align": "left", "baseline": "middle"}, "encoding": {"text": {"field": "t"}}}
   ]
  },
  {
   "width": 266, "height": 150,
   "encoding": {
    "x": {"field": "x", "type": "quantitative", "scale": {"domain": [15, 31], "nice": false, "zero": false}, "axis": {"orient": "top", "values": [15,17,19,21,23,25,27,29,31], "format": "d", "title": ["Chromosome 1L", "Mb"]}},
    "y": {"field": "y", "type": "quantitative", "scale": {"domain": [-1, 4], "nice": false, "zero": false}, "axis": {"values": [-1,0,1,2,3,4], "format": "d", "title": "wt-fkf1"}}
   },
   "layer": [
    {"data": {"name": "bband"}, "mark": {"type": "rect", "color": "#000", "clip": false}, "encoding": {"x2": {"field": "x2"}, "y2": {"field": "y2"}}},
    {"data": {"name": "bpts"}, "mark": {"type": "point", "shape": "square", "filled": true, "color": "#000", "size": 2.5, "opacity": 1, "clip": false}},
    {"data": {"name": "bcon"}, "mark": {"type": "line", "color": "#8c8c8c", "strokeWidth": 1, "strokeDash": [5, 4], "clip": false}, "encoding": {"detail": {"field": "g"}}},
    {"data": {"values": [{"x": 15.6, "y": 3.6, "t": "B"}]}, "mark": {"type": "text", "font": "Liberation Sans", "fontWeight": "bold", "fontSize": 13, "align": "left", "baseline": "middle"}, "encoding": {"text": {"field": "t"}}}
   ]
  },
  {
   "width": 267, "height": 157,
   "encoding": {
    "x": {"field": "x", "type": "quantitative", "scale": {"domain": [1.184, 1.202], "nice": false, "zero": false}, "axis": {"orient": "top", "values": [1.184,1.186,1.188,1.19,1.192,1.194,1.196,1.198,1.2,1.202], "format": ".3f", "title": "Mb"}},
    "y": {"field": "y", "type": "quantitative", "scale": {"domain": [-1, 2.5], "nice": false, "zero": false}, "axis": {"values": [-1,-0.5,0,0.5,1,1.5,2,2.5], "format": ".1f", "title": "wt-cry2-1"}}
   },
   "layer": [
    {"data": {"name": "cstep"}, "mark": {"type": "line", "color": "#555", "strokeWidth": 1, "clip": false}, "encoding": {"order": {"field": "o"}}},
    {"data": {"name": "cpts"}, "mark": {"type": "point", "shape": "circle", "filled": true, "color": "#000", "size": 10, "opacity": 1, "clip": false}},
    {"data": {"values": [{"x": 1.18655, "y": 0.935}]}, "mark": {"type": "point", "shape": "M -1 0 L -0.42 -0.2 L -0.42 -0.11 L 1 -0.11 L 1 0.11 L -0.42 0.11 L -0.42 0.2 Z", "size": 1681, "filled": true, "color": "white", "stroke": "#000", "strokeWidth": 1, "opacity": 1}},
    {"data": {"values": [{"x": 1.18705, "y": 1.17, "t": "CRY2"}]}, "mark": {"type": "text", "font": "Liberation Serif", "fontWeight": "bold", "fontStyle": "italic", "fontSize": 11, "align": "center", "baseline": "middle"}, "encoding": {"text": {"field": "t"}}},
    {"data": {"values": [{"x": 1.185, "y": 2.17, "t": "C"}]}, "mark": {"type": "text", "font": "Liberation Sans", "fontWeight": "bold", "fontSize": 13, "align": "left", "baseline": "middle"}, "encoding": {"text": {"field": "t"}}}
   ]
  },
  {
   "width": 266, "height": 157,
   "encoding": {
    "x": {"field": "x", "type": "quantitative", "scale": {"domain": [25.5, 25.7], "nice": false, "zero": false}, "axis": {"orient": "top", "values": [25.5,25.55,25.6,25.65,25.7], "format": ".2f", "title": "Mb"}},
    "y": {"field": "y", "type": "quantitative", "scale": {"domain": [-1, 4], "nice": false, "zero": false}, "axis": {"values": [-1,0,1,2,3,4], "format": ".1f", "title": "wt-fkf1"}}
   },
   "layer": [
    {"data": {"name": "dstep"}, "mark": {"type": "line", "color": "#555", "strokeWidth": 1, "clip": false}, "encoding": {"order": {"field": "o"}}},
    {"data": {"name": "dpts"}, "mark": {"type": "point", "shape": "circle", "filled": true, "color": "#000", "size": 9, "opacity": 1, "clip": false}},
    {"data": {"values": [{"x": 25.5771, "y": -0.36}]}, "mark": {"type": "point", "shape": "M 1 0 L 0.2 -0.7 L 0.2 -0.35 L -1 -0.35 L -1 0.35 L 0.2 0.35 L 0.2 0.7 Z", "size": 70, "filled": true, "color": "white", "stroke": "#000", "strokeWidth": 1, "opacity": 1}},
    {"data": {"values": [{"x": 25.5762, "y": -0.64, "t": "FKF1"}]}, "mark": {"type": "text", "font": "Liberation Serif", "fontStyle": "italic", "fontSize": 11, "align": "center", "baseline": "middle"}, "encoding": {"text": {"field": "t"}}},
    {"data": {"values": [{"x": 25.5083, "y": 3.56, "t": "D"}]}, "mark": {"type": "text", "font": "Liberation Sans", "fontWeight": "bold", "fontSize": 13, "align": "left", "baseline": "middle"}, "encoding": {"text": {"field": "t"}}}
   ]
  },
  {
   "width": 267, "height": 155,
   "encoding": {
    "x": {"field": "x", "type": "quantitative", "scale": {"domain": [1.184, 1.202], "nice": false, "zero": false}, "axis": {"orient": "top", "values": [1.184,1.186,1.188,1.19,1.192,1.194,1.196,1.198,1.2,1.202], "format": ".3f", "title": "Mb"}},
    "y": {"field": "y", "type": "quantitative", "scale": {"domain": [-1, 2.5], "nice": false, "zero": false}, "axis": {"values": [-1,-0.5,0,0.5,1,1.5,2,2.5], "format": ".1f", "title": "wt-cry2-1"}}
   },
   "layer": [
    {"data": {"name": "estep"}, "mark": {"type": "line", "color": "#555", "strokeWidth": 1, "clip": false}, "encoding": {"order": {"field": "o"}}},
    {"data": {"name": "epts"}, "mark": {"type": "point", "shape": "circle", "filled": true, "color": "#000", "size": 10, "opacity": 1, "clip": false}},
    {"data": {"values": [{"x": 1.18655, "y": 0.96}]}, "mark": {"type": "point", "shape": "M -1 0 L -0.42 -0.2 L -0.42 -0.11 L 1 -0.11 L 1 0.11 L -0.42 0.11 L -0.42 0.2 Z", "size": 1681, "filled": true, "color": "white", "stroke": "#000", "strokeWidth": 1, "opacity": 1}},
    {"data": {"values": [{"x": 1.18705, "y": 1.18, "t": "CRY2"}]}, "mark": {"type": "text", "font": "Liberation Serif", "fontWeight": "bold", "fontStyle": "italic", "fontSize": 11, "align": "center", "baseline": "middle"}, "encoding": {"text": {"field": "t"}}},
    {"data": {"values": [{"x": 1.185, "y": 2.16, "t": "E"}]}, "mark": {"type": "text", "font": "Liberation Sans", "fontWeight": "bold", "fontSize": 13, "align": "left", "baseline": "middle"}, "encoding": {"text": {"field": "t"}}}
   ]
  },
  {
   "width": 266, "height": 155,
   "encoding": {
    "x": {"field": "x", "type": "quantitative", "scale": {"domain": [25.5, 25.7], "nice": false, "zero": false}, "axis": {"orient": "top", "values": [25.5,25.55,25.6,25.65,25.7], "format": ".2f", "title": "Mb"}},
    "y": {"field": "y", "type": "quantitative", "scale": {"domain": [-1, 2], "nice": false, "zero": false}, "axis": {"values": [-1,0,1,2], "format": ".1f", "title": "wt-fkf1"}}
   },
   "layer": [
    {"data": {"name": "fstep"}, "mark": {"type": "line", "color": "#555", "strokeWidth": 1, "clip": false}, "encoding": {"order": {"field": "o"}}},
    {"data": {"name": "fpts"}, "mark": {"type": "point", "shape": "circle", "filled": true, "color": "#000", "size": 9, "opacity": 1, "clip": false}},
    {"data": {"values": [{"x": 25.5771, "y": -0.45}]}, "mark": {"type": "point", "shape": "M 1 0 L 0.2 -0.7 L 0.2 -0.35 L -1 -0.35 L -1 0.35 L 0.2 0.35 L 0.2 0.7 Z", "size": 70, "filled": true, "color": "white", "stroke": "#000", "strokeWidth": 1, "opacity": 1}},
    {"data": {"values": [{"x": 25.5762, "y": -0.63, "t": "FKF1"}]}, "mark": {"type": "text", "font": "Liberation Serif", "fontStyle": "italic", "fontSize": 11, "align": "center", "baseline": "middle"}, "encoding": {"text": {"field": "t"}}},
    {"data": {"values": [{"x": 25.5075, "y": 1.73, "t": "F"}]}, "mark": {"type": "text", "font": "Liberation Sans", "fontWeight": "bold", "fontSize": 13, "align": "left", "baseline": "middle"}, "encoding": {"text": {"field": "t"}}}
   ]
  }
 ],
 "config": {
  "font": "Liberation Serif",
  "view": {"stroke": "#7f7f7f", "strokeWidth": 1},
  "axis": {"labelFont": "Liberation Serif", "labelFontSize": 9, "labelColor": "#111", "titleFont": "Liberation Serif", "titleFontSize": 9.5, "titleFontWeight": "normal", "titleColor": "#111", "domainColor": "#7f7f7f", "tickColor": "#7f7f7f", "tickSize": 3, "grid": false, "labelPadding": 2, "titlePadding": 3, "titleLineHeight": 12, "labelOverlap": false, "labelFlush": false},
  "axisX": {"labelPadding": 6},
  "axisY": {"titleFontWeight": "bold", "titleFontSize": 9.5, "titleX": -15}
 }
}
